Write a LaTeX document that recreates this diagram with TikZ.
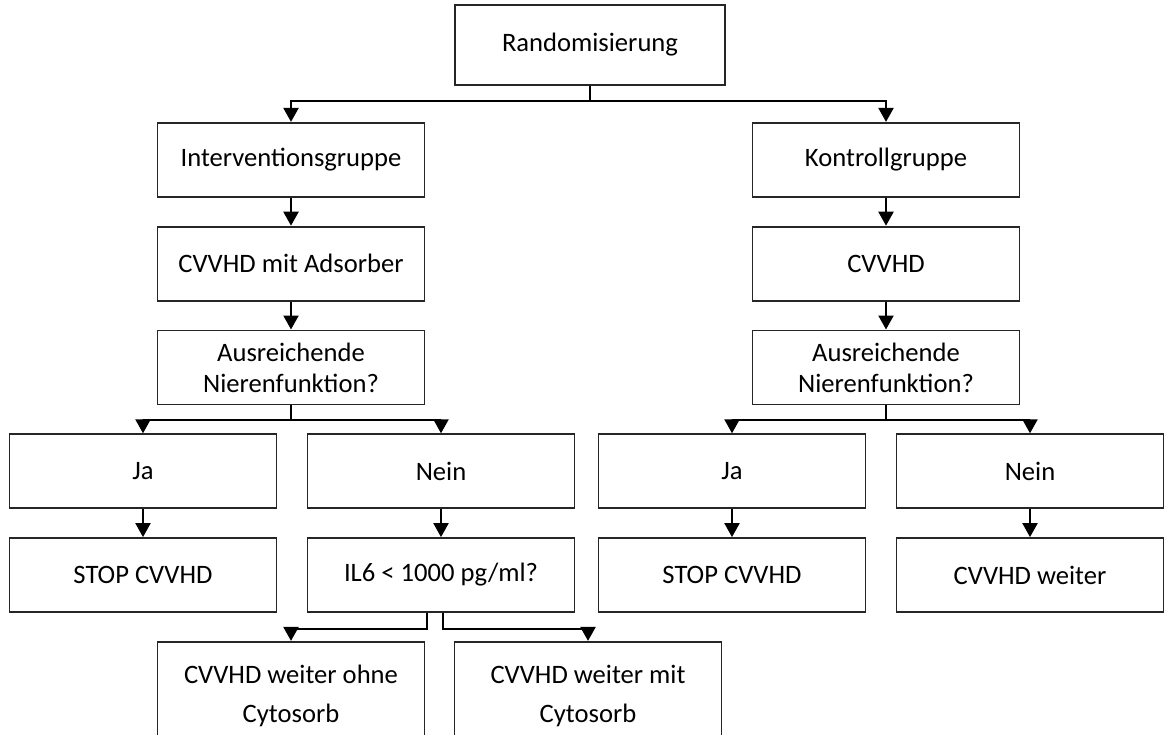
\documentclass[tikz,border=0pt]{standalone}
\usepackage{fontspec}
\setmainfont{Carlito}
\usetikzlibrary{arrows.meta, positioning}
\tikzset{
  box/.style={draw=black!85, rectangle, align=center, inner sep=2pt, minimum width=133.5pt, minimum height=37pt, line width=0.9pt, font=\fontsize{13.3}{15.5}\selectfont, fill=white},
  topbox/.style={box, minimum width=135pt, minimum height=40pt},
  endbox/.style={box, minimum height=54pt},
  arrow/.style={-{Triangle[width=7.5pt,length=7pt]}, line width=1.1pt, draw=black}
}
\begin{document}
\begin{tikzpicture}[node distance=14pt]
\clip (0,0) rectangle (582.5pt,-367pt);

\node[topbox] (rand) at (295pt,-22.5pt) {Randomisierung};
\node[box, below=18pt of rand, xshift=-149.5pt] (intv) {Interventionsgruppe};
\node[box, below=18pt of rand, xshift=148pt] (kontr) {Kontrollgruppe};

% Interventionsgruppe
\node[box, below=of intv] (cvvhdL) {CVVHD mit Adsorber};
\node[box, below=of cvvhdL] (nierL) {Ausreichende\\Nierenfunktion?};
\node[box, below=of nierL, xshift=-74pt] (jaL) {Ja};
\node[box, below=of nierL, xshift=75pt] (neinL) {Nein};
\node[box, below=of jaL] (stopL) {STOP CVVHD};
\node[box, below=of neinL] (il6) {IL6 < 1000 pg/ml?};
\node[endbox, below=of il6, xshift=-75pt] (ohne) {CVVHD weiter ohne\\[4pt]Cytosorb};
\node[endbox, below=of il6, xshift=73.5pt] (mit) {CVVHD weiter mit\\[4pt]Cytosorb};

% Kontrollgruppe
\node[box, below=of kontr] (cvvhdR) {CVVHD};
\node[box, below=of cvvhdR] (nierR) {Ausreichende\\Nierenfunktion?};
\node[box, below=of nierR, xshift=-77pt] (jaR) {Ja};
\node[box, below=of nierR, xshift=72pt] (neinR) {Nein};
\node[box, below=of jaR] (stopR) {STOP CVVHD};
\node[box, below=of neinR] (weiter) {CVVHD weiter};

\draw[arrow] (rand.south) -- ++(0,-7.5pt) -| (intv.north);
\draw[arrow] (rand.south) -- ++(0,-7.5pt) -| (kontr.north);
\draw[arrow] (intv) -- (cvvhdL);
\draw[arrow] (cvvhdL) -- (nierL);
\draw[arrow] (nierL.south) -- ++(0,-7.5pt) -| (jaL.north);
\draw[arrow] (nierL.south) -- ++(0,-7.5pt) -| (neinL.north);
\draw[arrow] (jaL) -- (stopL);
\draw[arrow] (neinL) -- (il6);
\draw[arrow] ([xshift=-7pt]il6.south) -- ++(0,-8pt) -| (ohne.north);
\draw[arrow] ([xshift=1pt]il6.south) -- ++(0,-8pt) -| (mit.north);
\draw[arrow] (kontr) -- (cvvhdR);
\draw[arrow] (cvvhdR) -- (nierR);
\draw[arrow] (nierR.south) -- ++(0,-7.5pt) -| (jaR.north);
\draw[arrow] (nierR.south) -- ++(0,-7.5pt) -| (neinR.north);
\draw[arrow] (jaR) -- (stopR);
\draw[arrow] (neinR) -- (weiter);

\end{tikzpicture}
\end{document}
